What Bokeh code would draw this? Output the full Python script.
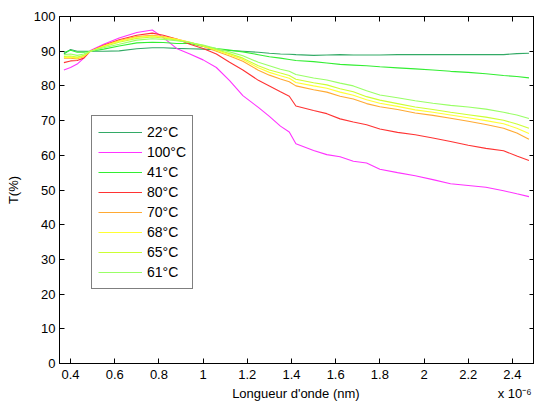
from bokeh.plotting import figure
from bokeh.models import (Range1d, FixedTicker, LinearAxis, Legend, LegendItem,
                          CustomJSTickFormatter)
from bokeh.embed import file_html
from bokeh.resources import INLINE

# wavelength (x 10^-6 m)
wavelength = [0.37, 0.40, 0.43, 0.46, 0.49, 0.55, 0.62, 0.70, 0.77, 0.82, 0.88, 0.94,
              1.00, 1.06, 1.12, 1.18, 1.25, 1.30, 1.35, 1.39, 1.42, 1.50, 1.56, 1.62,
              1.68, 1.74, 1.80, 1.88, 1.96, 2.04, 2.12, 2.20, 2.28, 2.36, 2.42, 2.475]

t22 = [89.2, 90.5, 90.0, 90.0, 90.0, 90.0, 90.1, 90.7, 91.0, 91.0, 90.8, 90.7,
       90.6, 90.4, 90.2, 90.0, 89.7, 89.4, 89.2, 89.1, 89.0, 88.8, 88.9, 89.0,
       88.9, 88.9, 88.9, 89.0, 89.0, 89.0, 89.0, 89.0, 89.0, 89.0, 89.3, 89.4]
t100 = [84.6, 85.3, 86.3, 88.0, 90.2, 92.0, 93.8, 95.4, 96.1, 93.9, 90.8, 89.2,
        87.5, 85.3, 81.5, 77.2, 73.8, 71.2, 68.4, 66.7, 63.3, 61.4, 60.2, 59.6,
        58.3, 57.8, 56.0, 55.0, 54.1, 53.0, 51.8, 51.3, 50.8, 49.8, 48.9, 48.1]
t41 = [89.6, 90.3, 89.7, 89.7, 90.0, 90.6, 91.5, 92.4, 92.6, 92.5, 92.2, 92.2,
       91.4, 90.8, 90.3, 89.8, 89.0, 88.4, 88.0, 87.6, 87.3, 87.0, 86.6, 86.2,
       86.0, 85.8, 85.5, 85.2, 84.9, 84.6, 84.2, 83.9, 83.5, 83.0, 82.7, 82.3]
t80 = [86.7, 87.2, 87.3, 88.0, 90.0, 91.7, 93.3, 94.6, 95.2, 94.6, 93.5, 92.0,
       90.8, 89.2, 86.8, 84.6, 81.6, 80.0, 78.3, 77.0, 74.2, 72.9, 72.0, 70.5,
       69.6, 68.8, 67.6, 66.6, 65.9, 65.0, 64.0, 62.9, 62.0, 61.3, 59.8, 58.5]
t70 = [88.0, 88.0, 87.8, 88.4, 90.0, 91.6, 93.1, 94.2, 94.6, 94.2, 93.5, 92.6,
       91.4, 90.0, 88.6, 87.1, 84.5, 83.1, 82.0, 81.2, 80.0, 78.9, 78.2, 77.0,
       76.2, 74.9, 74.0, 73.2, 72.2, 71.5, 70.7, 69.8, 68.9, 67.8, 66.4, 64.6]
t68 = [88.2, 88.3, 88.0, 88.6, 90.0, 91.5, 92.9, 94.0, 94.4, 94.1, 93.4, 92.6,
       91.5, 90.3, 89.0, 87.6, 85.2, 83.9, 82.9, 82.2, 81.0, 80.0, 79.3, 78.2,
       77.3, 76.0, 75.0, 74.1, 73.1, 72.4, 71.6, 70.8, 70.0, 69.1, 67.8, 66.3]
t65 = [88.5, 88.6, 88.3, 88.8, 90.0, 91.3, 92.6, 93.7, 94.1, 93.8, 93.2, 92.5,
       91.6, 90.5, 89.3, 88.0, 85.8, 84.6, 83.7, 83.0, 81.9, 80.9, 80.3, 79.2,
       78.3, 76.9, 75.9, 74.9, 73.9, 73.2, 72.4, 71.7, 71.0, 70.1, 69.0, 67.8]
t61 = [89.0, 89.2, 88.8, 89.2, 90.0, 91.0, 92.0, 93.2, 93.6, 93.4, 93.0, 92.5,
       91.8, 90.8, 89.8, 88.7, 86.8, 85.8, 84.8, 84.2, 83.3, 82.3, 81.7, 80.8,
       80.0, 78.6, 77.4, 76.6, 75.7, 75.0, 74.4, 73.9, 73.3, 72.4, 71.6, 70.6]

series_labels = ["22°C", "100°C", "41°C", "80°C", "70°C", "68°C", "65°C", "61°C"]
series_values = [t22, t100, t41, t80, t70, t68, t65, t61]
series_colors = ["#33aa66", "#ff33ff", "#33ee33", "#ff3333",
                 "#ffaa33", "#ffff33", "#ccff33", "#99ff66"]

x_ticks = [0.4, 0.6, 0.8, 1.0, 1.2, 1.4, 1.6, 1.8, 2.0, 2.2, 2.4]
x_tick_labels = ["0.4", "0.6", "0.8", "1", "1.2", "1.4", "1.6", "1.8", "2", "2.2", "2.4"]
y_ticks = [0, 10, 20, 30, 40, 50, 60, 70, 80, 90, 100]
x_title = "Longueur d'onde (nm)"
x_scale_note = "x 10\u207b\u2076"

FONT = "Liberation Sans"

p = figure(width=534, height=405, output_backend="svg", toolbar_location=None,
           x_range=Range1d(0.35, 2.5), y_range=Range1d(0, 100),
           min_border_left=59, min_border_right=0, min_border_top=16, min_border_bottom=42)
p.xgrid.visible = False
p.ygrid.visible = False
p.outline_line_color = "black"
p.background_fill_color = "white"
p.border_fill_color = "white"

def style_axis(ax, ticks, labels=True):
    ax.ticker = FixedTicker(ticks=ticks)
    ax.major_tick_in = 5
    ax.major_tick_out = 0
    ax.minor_tick_line_color = None
    ax.axis_line_color = "black"
    ax.major_tick_line_color = "black"
    ax.major_label_text_font = FONT
    ax.major_label_text_color = "black"
    ax.axis_label_text_font = FONT
    ax.axis_label_text_font_style = "normal"
    ax.axis_label_text_color = "black"
    ax.axis_label_text_font_size = "13px"
    ax.major_label_text_font_size = "13px"
    if not labels:
        ax.formatter = CustomJSTickFormatter(code="return '';")
        ax.major_label_standoff = 0

xa = p.xaxis[0]
style_axis(xa, x_ticks)
xa.major_label_overrides = dict(zip(x_ticks, x_tick_labels))
xa.major_label_standoff = 6

# second row below the x axis: axis title (centred) and the x 10^-6 multiplier
title_pos = [1.42, 2.41]
title_axis = LinearAxis(ticker=FixedTicker(ticks=title_pos),
                        major_label_overrides=dict(zip(title_pos, [x_title, x_scale_note])),
                        axis_line_color=None, major_tick_line_color=None,
                        minor_tick_line_color=None, major_tick_in=0, major_tick_out=0,
                        major_label_standoff=4, major_label_text_font=FONT,
                        major_label_text_font_size="13px", major_label_text_color="black")
p.add_layout(title_axis, "below")

ya = p.yaxis[0]
style_axis(ya, y_ticks)
ya.axis_label = "T(%)"
ya.major_label_standoff = 4
ya.axis_label_standoff = 10

top_ax = LinearAxis()
style_axis(top_ax, x_ticks, labels=False)
p.add_layout(top_ax, "above")
right_ax = LinearAxis()
style_axis(right_ax, y_ticks, labels=False)
p.add_layout(right_ax, "right")

items = []
for lab, vals, col in zip(series_labels, series_values, series_colors):
    r = p.line(wavelength, vals, line_color=col, line_width=1.1)
    items.append(LegendItem(label=lab, renderers=[r]))

legend = Legend(items=items, location=(32, 74), orientation="vertical",
                glyph_width=44, glyph_height=20, label_height=20, spacing=0,
                padding=6, label_standoff=5, margin=0,
                label_text_font=FONT, label_text_font_size="14px",
                label_text_color="black",
                border_line_color="black", border_line_width=1,
                background_fill_color="white", background_fill_alpha=1.0)
p.add_layout(legend, "center")

open("out.html", "w").write(file_html(p, INLINE))
